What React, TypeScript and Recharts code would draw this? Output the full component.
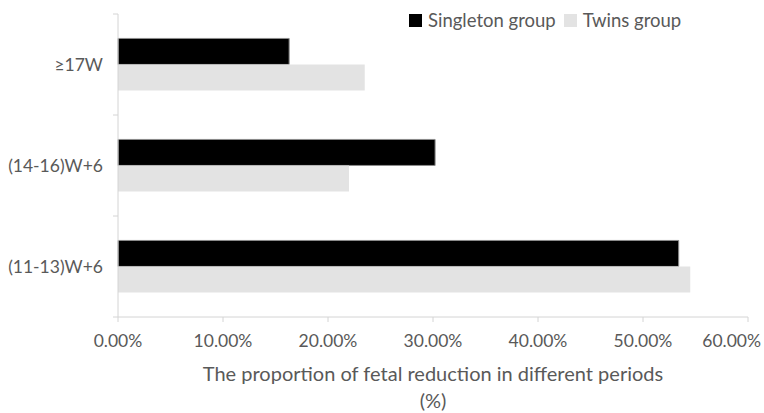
import React from "react";
import { BarChart, Bar, XAxis, YAxis, Legend } from "recharts";

const periods = ["≥17W", "(14-16)W+6", "(11-13)W+6"];
const singleton = [16.3, 30.2, 53.4];
const twins = [23.5, 22.0, 54.5];
const xTicks = [0, 10, 20, 30, 40, 50, 60];

const data = periods.map((p, i) => ({ period: p, singleton: singleton[i], twins: twins[i] }));

const FONT = "Lato, 'Open Sans', sans-serif";
const TEXT = "#595959";
const AXIS = "#d4d4d4";
const Y_AXIS_W = 118;
const CHART_W = 764;

const CategoryTick = (props: any) => {
  const { x, y, payload, index, visibleTicksCount } = props;
  const half = payload && payload.offset ? payload.offset : 50.5;
  const last = index === visibleTicksCount - 1;
  return (
    <g>
      <line x1={Y_AXIS_W - 5} x2={Y_AXIS_W} y1={y - half} y2={y - half} stroke={AXIS} />
      {last && <line x1={Y_AXIS_W - 5} x2={Y_AXIS_W} y1={y + half} y2={y + half} stroke={AXIS} />}
      <text x={x} y={y} dy="0.35em" textAnchor="end" fill={TEXT} fontSize={17.5} fontFamily={FONT}>
        {payload.value}
      </text>
    </g>
  );
};

// keeps the last label inside the picture, like the original does
const ValueTick = (props: any) => {
  const { x, y, payload } = props;
  const label = payload.value.toFixed(2) + "%";
  const overflow = x + 29 > CHART_W - 3;
  return (
    <text
      x={overflow ? CHART_W - 3 : x}
      y={y}
      dy="0.71em"
      textAnchor={overflow ? "end" : "middle"}
      fill={TEXT}
      fontSize={17.5}
      fontFamily={FONT}
    >
      {label}
    </text>
  );
};

const AxisTitle = (props: any) => {
  const { x, y, width } = props.viewBox;
  const cx = x + width / 2;
  return (
    <g>
      <text x={cx} y={y + 64} textAnchor="middle" fill={TEXT} fontSize={20} fontFamily={FONT}>
        The proportion of fetal reduction in different periods
      </text>
      <text x={cx} y={y + 91} textAnchor="middle" fill={TEXT} fontSize={20} fontFamily={FONT}>
        (%)
      </text>
    </g>
  );
};

const LegendBox = (props: any) => {
  const { payload } = props;
  return (
    <div style={{ display: "flex", alignItems: "center", fontFamily: FONT, fontSize: 18.5, color: TEXT, whiteSpace: "nowrap" }}>
      {payload.map((item: any, i: number) => (
        <div key={i} style={{ display: "flex", alignItems: "center", marginRight: 8 }}>
          <span style={{ width: 13, height: 13, background: item.color, display: "inline-block", marginRight: 6 }} />
          <span>{item.value}</span>
        </div>
      ))}
    </div>
  );
};

export default function App() {
  return (
    <div style={{ position: "absolute", left: 0, top: 0, width: CHART_W, height: 413, background: "#fff" }}>
      <BarChart
        width={CHART_W}
        height={413}
        data={data}
        layout="vertical"
        margin={{ top: 14, right: 16, left: 0, bottom: 0 }}
        barCategoryGap="24.2%"
        barGap={0}
      >
        <XAxis
          type="number"
          domain={[0, 60]}
          ticks={xTicks}
          height={96}
          axisLine={{ stroke: AXIS }}
          tickLine={{ stroke: AXIS }}
          tickSize={5}
          tickMargin={13}
          tick={<ValueTick />}
          label={<AxisTitle />}
        />
        <YAxis
          type="category"
          dataKey="period"
          width={Y_AXIS_W}
          axisLine={{ stroke: AXIS }}
          tickLine={false}
          tickSize={5}
          tickMargin={10}
          tick={<CategoryTick />}
          interval={0}
        />
        <Legend
          layout="vertical"
          align="center"
          verticalAlign="middle"
          content={<LegendBox />}
          wrapperStyle={{ top: 9, left: 409, width: "auto" }}
        />
        <Bar dataKey="singleton" name="Singleton group" fill="#000000" stroke="#8c8c8c" strokeWidth={1} isAnimationActive={false} />
        <Bar dataKey="twins" name="Twins group" fill="#e3e3e3" isAnimationActive={false} />
      </BarChart>
    </div>
  );
}
